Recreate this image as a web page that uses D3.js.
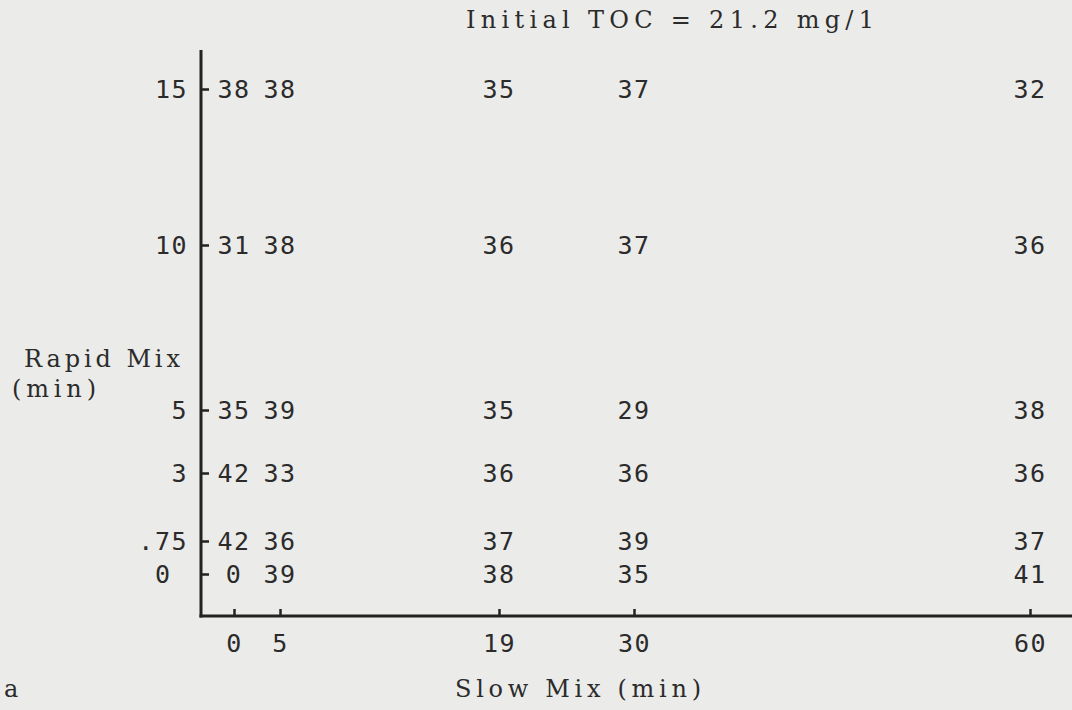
<!DOCTYPE html>
<html>
<head>
<meta charset="utf-8">
<script src="https://cdn.jsdelivr.net/npm/d3@7"></script>
<style>
  html, body { margin: 0; padding: 0; background: #ebebea; }
  svg { display: block; }
  .num { font-family: "DejaVu Sans Mono", monospace; font-size: 25px; letter-spacing: 1.5px; fill: #2b2b2b; }
  .lbl { font-family: "DejaVu Serif", serif; font-size: 24px; fill: #2b2b2b; }
</style>
</head>
<body>
<script>
// ---- data ----
const slowMix = [0, 5, 19, 30, 60];             // x categories (min)
const rapidMix = [15, 10, 5, 3, 0.75, 0];        // y categories (min)
const rapidLabels = ["15", "10", "5", "3", ".75", "0 "];
const slowLabels = ["0", "5", "19", "30", "60"];
// TOC removal values, one array per rapid-mix row, ordered by slowMix
const row15  = [38, 38, 35, 37, 32];
const row10  = [31, 38, 36, 37, 36];
const row5   = [35, 39, 35, 29, 38];
const row3   = [42, 33, 36, 36, 36];
const row075 = [42, 36, 37, 39, 37];
const row0   = [0, 39, 38, 35, 41];
const title = "Initial TOC = 21.2 mg/1";
const xTitle = "Slow Mix (min)";
const yTitle1 = "Rapid Mix";
const yTitle2 = "(min)";
const panel = "a";

const rows = [row15, row10, row5, row3, row075, row0];

const W = 1072, H = 710;
const svg = d3.select("body").append("svg").attr("width", W).attr("height", H);

const axisX = 201, axisY = 616;
const CH = 18; // typewriter pitch (px per character)

// piecewise-linear scales to mimic the uneven typewritten layout
const x = d3.scaleLinear().domain(slowMix).range([234, 280, 499, 634, 1030]);
const y = d3.scaleLinear().domain(rapidMix).range([89, 245, 410, 473, 541, 574]);

// axis lines
svg.append("line").attr("x1", axisX).attr("x2", axisX).attr("y1", 50).attr("y2", axisY + 1.5)
  .attr("stroke", "#222").attr("stroke-width", 3);
svg.append("line").attr("x1", axisX - 1.5).attr("x2", W).attr("y1", axisY).attr("y2", axisY)
  .attr("stroke", "#222").attr("stroke-width", 3);

// y axis (ticks inward to the right, labels left)
const yAxis = d3.axisLeft(y).tickValues(rapidMix)
  .tickFormat((d, i) => rapidLabels[i]).tickSize(-8).tickPadding(13);
const gy = svg.append("g").attr("transform", `translate(${axisX},0)`).call(yAxis);
gy.select(".domain").remove();
gy.selectAll(".tick line").attr("x1", 0).attr("stroke", "#222").attr("stroke-width", 2.5);
gy.selectAll(".tick text").attr("class", "num").attr("style", "white-space:pre").attr("dy", "0.35em").attr("font-size", null).attr("font-family", null);

// x axis (ticks inward/up, labels below)
const xAxis = d3.axisBottom(x).tickValues(slowMix)
  .tickFormat((d, i) => slowLabels[i]).tickSize(-7).tickPadding(18);
const gx = svg.append("g").attr("transform", `translate(0,${axisY})`).call(xAxis);
gx.select(".domain").remove();
gx.selectAll(".tick line").attr("stroke", "#222").attr("stroke-width", 2.5);
gx.selectAll(".tick text").attr("class", "num").attr("font-size", null).attr("font-family", null);

// values grid
const cells = [];
rows.forEach((r, i) => r.forEach((v, j) => cells.push({ rm: rapidMix[i], sm: slowMix[j], v })));
svg.append("g").selectAll("text").data(cells).join("text")
  .attr("class", "num")
  .attr("x", d => x(d.sm))
  .attr("y", d => y(d.rm))
  .attr("dy", "0.35em")
  .attr("text-anchor", "middle")
  .text(d => d.v);

// typewriter-style labels: fixed pitch via textLength
function typed(str, x0, y0) {
  svg.append("text").attr("class", "lbl").attr("x", x0).attr("y", y0)
    .attr("textLength", CH * str.length - 6).attr("lengthAdjust", "spacing")
    .attr("style", "white-space:pre").text(str);
}
typed(title, 466, 28);
typed(xTitle, 455, 697);
typed(yTitle1, 24, 367);
typed(yTitle2, 12, 397);
svg.append("text").attr("class", "lbl").attr("x", 4).attr("y", 697).text(panel);
</script>
</body>
</html>
